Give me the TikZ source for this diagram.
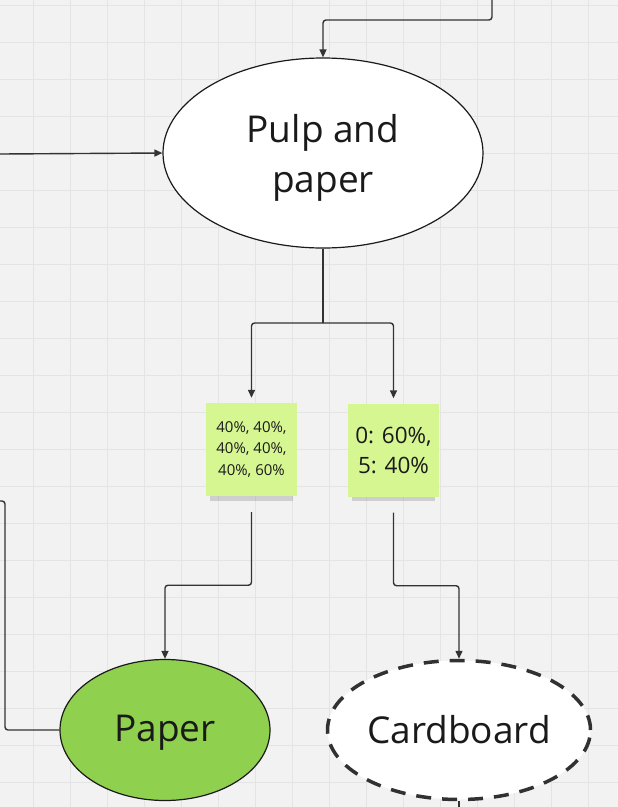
\documentclass[tikz,border=0pt]{standalone}
\usepackage{fontspec}
\setmainfont{Open Sans}
\usetikzlibrary{shapes.geometric,arrows.meta,shadows}
\definecolor{canvas}{HTML}{F2F2F2}
\definecolor{gridgray}{HTML}{E4E4E4}
\definecolor{ink}{HTML}{333333}
\definecolor{textink}{HTML}{1A1A1A}
\definecolor{stickygreen}{HTML}{D6F692}
\definecolor{papergreen}{HTML}{8FD14F}
\begin{document}
\begin{tikzpicture}[x=1pt,y=-1pt,
    gridline/.style={gridgray,line width=1pt},
    flow/.style={ink,line width=1.4pt,rounded corners=3pt,-{Triangle[length=8pt,width=7pt]}},
    link/.style={ink,line width=1.4pt,rounded corners=3pt},
    process/.style={ellipse,draw=textink,line width=1.2pt,fill=white,inner sep=0pt,
      text=textink,align=center,font=\fontsize{37}{50}\selectfont},
    sticky/.style={rectangle,fill=stickygreen,minimum width=91pt,minimum height=93pt,
      inner sep=0pt,text=textink,align=center,
      drop shadow={shadow xshift=0pt,shadow yshift=-9pt,shadow scale=0.92,opacity=0.3}}]
  \useasboundingbox (0,0) rectangle (618,807);
  % Canvas and grid
  \fill[canvas] (0,0) rectangle (618,807);
  \foreach \gx in {0,...,17}
    \draw[gridline] ({-3.5+37*\gx},0) -- ++(0,807);
  \foreach \gy in {0,...,22}
    \draw[gridline] (0,{5+37*\gy}) -- ++(618,0);
  % Nodes
  \node[process,minimum width=320pt,minimum height=190pt] (pulp) at (323,153)
    {\raisebox{-5pt}[\height][\depth]{Pulp and}\\\raisebox{-5pt}[\height][\depth]{paper}};
  \node[sticky,font=\fontsize{15}{21.5}\selectfont] (noteA) at (251.5,449.5) {40\%, 40\%,\\40\%, 40\%,\\40\%, 60\%};
  \node[sticky,font=\fontsize{22.5}{30}\selectfont] (noteB) at (393.5,450) {0: 60\%,\\5: 40\%};
  \node[process,fill=papergreen,minimum width=210pt,minimum height=141pt] (paper) at (165,730)
    {\raisebox{-3pt}[\height][\depth]{Paper}};
  \node[process,draw=textink!90,line width=3.5pt,dash pattern=on 15pt off 11pt,
    minimum width=263pt,minimum height=139pt] (cardboard) at (459,730) {Cardboard};
  % Free ends
  \coordinate (topin) at (492,0);
  \coordinate (leftin) at (0,154);
  \coordinate (leftout) at (0,501);
  \coordinate (downout) at (459,807);
  \coordinate (split) at (323,323);
  % Connectors
  \draw[flow] (topin) -- ++(0,20) -| (pulp.north);
  \draw[flow] (leftin) -- (pulp.west);
  \draw[link] (pulp.south) -- (split);
  \draw[flow,shorten >=5pt] (split) -| (noteA.north);
  \draw[flow,shorten >=5pt] (split) -| (noteB.north);
  \draw[flow,shorten <=16pt] (noteA.south) -- ++(0,89) -| (paper.north);
  \draw[flow,shorten <=16pt] (noteB.south) -- ++(0,89) -| (cardboard.north);
  \draw[link] (leftout) -- ++(5,0) |- (paper.west);
  \draw[link] (cardboard.south) -- (downout);
\end{tikzpicture}
\end{document}
